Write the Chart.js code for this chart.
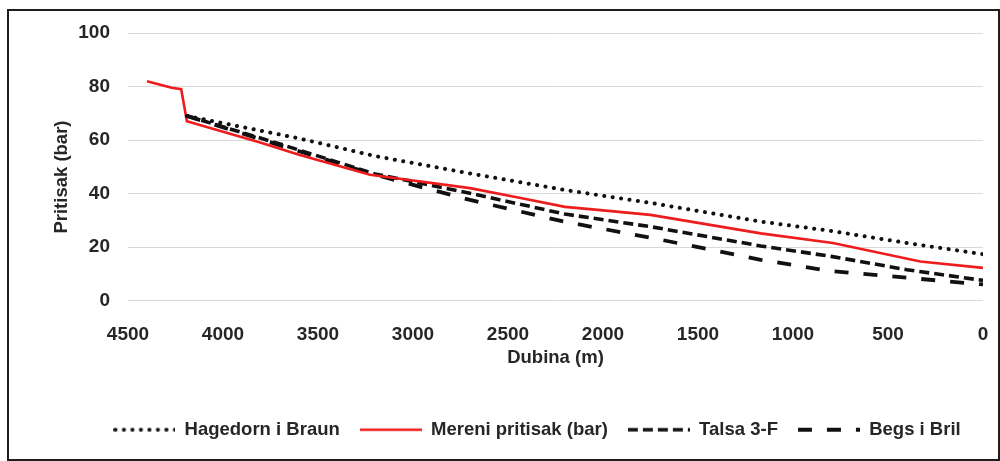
<!DOCTYPE html>
<html>
<head>
<meta charset="utf-8">
<script src="https://cdn.jsdelivr.net/npm/chart.js@4/dist/chart.umd.min.js"></script>
<style>
  html, body { margin: 0; padding: 0; background: #fff; }
  #wrap { position: relative; width: 1000px; height: 461px; }
  #frame {
    position: absolute; left: 7px; top: 9px; width: 989px; height: 448px;
    border: 2px solid #1e1e1e; pointer-events: none;
  }
</style>
</head>
<body>
<div id="wrap">
  <canvas id="chart" width="1000" height="461"></canvas>
  <div id="frame"></div>
</div>
<script>
// Pressure (bar) vs depth (m), x axis runs 4500 -> 0.
const SERIES_NAMES = ['Hagedorn i Braun', 'Mereni pritisak (bar)', 'Talsa 3-F', 'Begs i Bril'];

const hbDepth = [4190, 3600, 3200, 2700, 2200, 1750, 1170, 800, 400, 0];
const hbPress = [69, 60.6, 54, 47.5, 41.3, 36.5, 29.5, 26, 21.5, 17.3];

const mereniDepth = [4400, 4270, 4220, 4190, 3800, 3600, 3226, 2700, 2440, 2200, 2000, 1750, 1170, 790, 330, 0];
const mereniPress = [82, 79.5, 79, 67, 59, 54.5, 47, 42, 38.4, 35, 33.7, 32, 25.1, 21.5, 14.6, 12.2];

const talsaDepth = [4190, 3700, 3200, 2700, 2200, 1750, 1170, 800, 400, 0];
const talsaPress = [69, 58.5, 47.3, 40.1, 32.3, 27.6, 20.4, 16.5, 11.5, 7.5];

const begsDepth = [4190, 3700, 3200, 2700, 2200, 1750, 1170, 800, 400, 0];
const begsPress = [69, 58, 47, 37.6, 29.4, 23.5, 15.2, 11, 8.5, 6];

const TEXT = '#262626';
const FONT = "'Liberation Sans', Arial, sans-serif";
const TICK_FONT = { family: FONT, size: 19, weight: 'bold' };
const LABEL_FONT = { family: FONT, size: 18.5, weight: 'bold' };

function pts(xs, ys) {
  return xs.map((x, i) => ({ x, y: ys[i] }));
}

// Small canvas with a line sample, used as the legend symbol.
function lineSample(color, dash, width, cap) {
  const c = document.createElement('canvas');
  c.width = 62; c.height = 8;
  const g = c.getContext('2d');
  g.strokeStyle = color;
  g.lineWidth = width;
  g.lineCap = cap || 'butt';
  g.setLineDash(dash);
  g.beginPath();
  g.moveTo(cap === 'round' ? 2 : 0, 4);
  g.lineTo(62, 4);
  g.stroke();
  return c;
}

const styles = [
  { color: '#111', dash: [0.1, 8.4], width: 4, cap: 'round' },
  { color: '#ee1c1c', dash: [], width: 2.6, cap: 'butt' },
  { color: '#111', dash: [10, 5], width: 3.6, cap: 'butt' },
  { color: '#111', dash: [14, 15], width: 3.8, cap: 'butt' },
];
const seriesData = [
  pts(hbDepth, hbPress),
  pts(mereniDepth, mereniPress),
  pts(talsaDepth, talsaPress),
  pts(begsDepth, begsPress),
];

const datasets = SERIES_NAMES.map((name, i) => ({
  label: name,
  data: seriesData[i],
  showLine: true,
  borderColor: styles[i].color,
  backgroundColor: styles[i].color,
  borderWidth: styles[i].width,
  borderDash: styles[i].dash,
  borderCapStyle: styles[i].cap,
  pointRadius: 0,
  pointHoverRadius: 0,
  tension: 0,
}));

const legendIcons = styles.map((s) => lineSample(s.color, s.dash, s.width, s.cap));

// The legend row sits a bit left of the plot centre, as in the source figure.
const legendShift = {
  id: 'legendShift',
  afterLayout(chart) {
    const lg = chart.legend;
    if (!lg) return;
    lg.left = 91;
    lg.right = 983;
    lg.width = lg.right - lg.left;
  },
};

new Chart(document.getElementById('chart'), {
  type: 'scatter',
  data: { datasets },
  plugins: [legendShift],
  options: {
    responsive: false,
    animation: false,
    events: [],
    layout: { padding: { left: 0, right: 17, top: 33, bottom: 12 } },
    plugins: {
      tooltip: { enabled: false },
      legend: {
        position: 'bottom',
        labels: {
          usePointStyle: true,
          pointStyleWidth: 62,
          padding: 20,
          color: TEXT,
          font: LABEL_FONT,
          generateLabels: (chart) => {
            const items = Chart.defaults.plugins.legend.labels.generateLabels(chart);
            items.forEach((it) => { it.pointStyle = legendIcons[it.datasetIndex]; });
            return items;
          },
        },
      },
    },
    scales: {
      x: {
        type: 'linear',
        reverse: true,
        min: 0,
        max: 4500,
        ticks: {
          stepSize: 500,
          padding: 23,
          color: TEXT,
          font: TICK_FONT,
          callback: (v) => String(v),
        },
        grid: { display: false, drawTicks: false },
        border: { display: false },
        title: {
          display: true,
          text: 'Dubina (m)',
          color: TEXT,
          font: LABEL_FONT,
          padding: { top: 0, bottom: 31 },
        },
        afterFit: (scale) => {
          scale.height = 100;
          scale.paddingLeft = 0;
          scale.paddingRight = 0;
        },
      },
      y: {
        min: 0,
        max: 100,
        ticks: {
          stepSize: 20,
          padding: 18,
          color: TEXT,
          font: TICK_FONT,
          callback: (v) => String(v),
        },
        grid: { color: '#d9d9d9', lineWidth: 1, drawTicks: false },
        border: { display: false },
        title: {
          display: true,
          text: 'Pritisak (bar)    ',
          color: TEXT,
          font: LABEL_FONT,
          padding: { top: 51, bottom: 0 },
        },
        afterFit: (scale) => { scale.width = 128; },
      },
    },
  },
});
</script>
</body>
</html>
